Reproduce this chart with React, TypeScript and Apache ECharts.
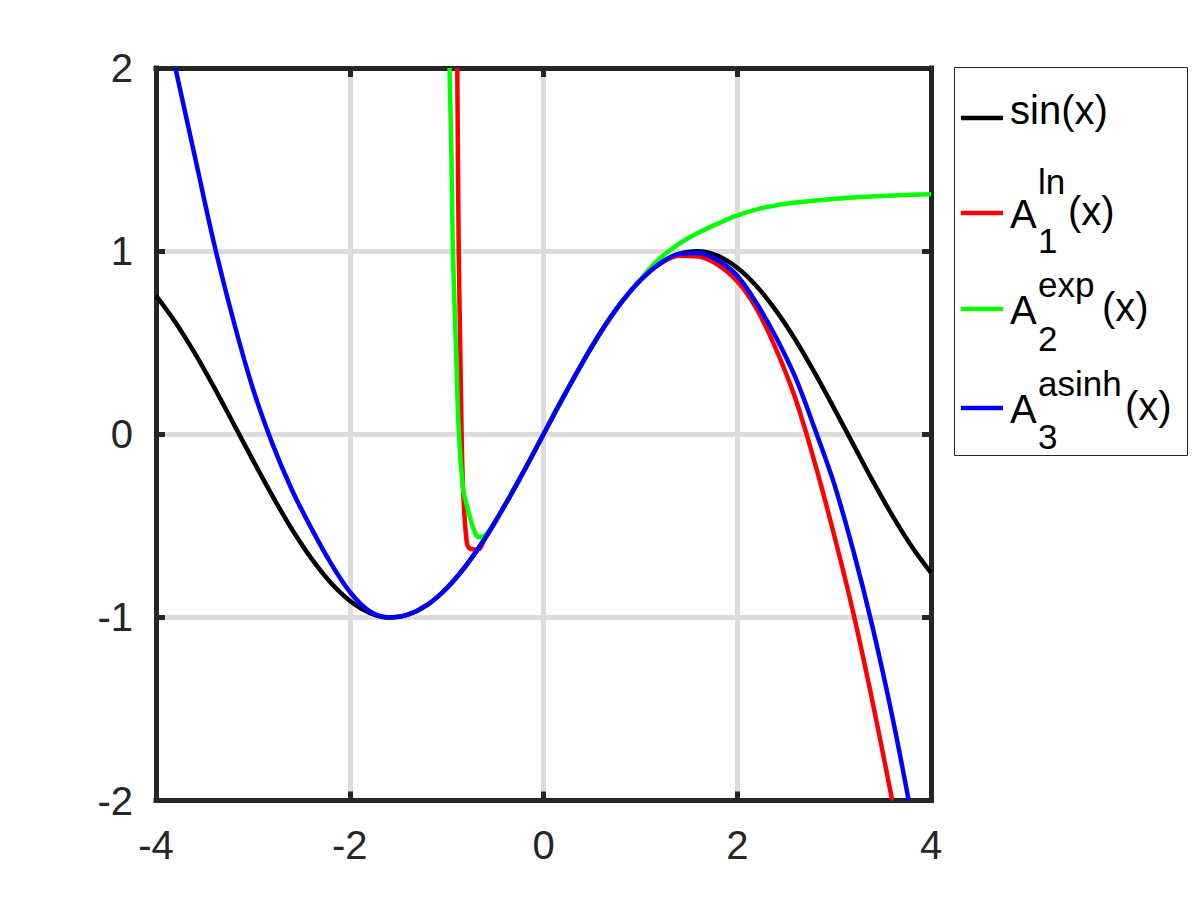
import React, { useEffect, useRef } from "react";
import * as echarts from "echarts";

// ---- data ----
const sinX = [-4, -3.8, -3.6, -3.4, -3.2, -3, -2.8, -2.6, -2.4, -2.2, -2, -1.8, -1.6, -1.4, -1.2, -1, -0.8, -0.6, -0.4, -0.2, 0, 0.2, 0.4, 0.6, 0.8, 1, 1.2, 1.4, 1.6, 1.8, 2, 2.2, 2.4, 2.6, 2.8, 3, 3.2, 3.4, 3.6, 3.8, 4];
const sinY = [0.757, 0.612, 0.443, 0.256, 0.058, -0.141, -0.335, -0.516, -0.675, -0.808, -0.909, -0.974, -1.0, -0.985, -0.932, -0.841, -0.717, -0.565, -0.389, -0.199, 0, 0.199, 0.389, 0.565, 0.717, 0.841, 0.932, 0.985, 1.0, 0.974, 0.909, 0.808, 0.675, 0.516, 0.335, 0.141, -0.058, -0.256, -0.443, -0.612, -0.757];

const a1X = [-0.89, -0.875, -0.86, -0.845, -0.83, -0.8, -0.77, -0.68, -0.6, -0.4, -0.2, 0, 0.2, 0.4, 0.6, 0.8, 1, 1.2, 1.4, 1.6, 1.8, 2, 2.2, 2.4, 2.6, 2.8, 3, 3.2, 3.4, 3.6];
const a1Y = [2.0, 1.0, 0.5, 0, -0.3, -0.55, -0.62, -0.63, -0.565, -0.389, -0.199, 0, 0.199, 0.389, 0.565, 0.717, 0.841, 0.93, 0.975, 0.97, 0.925, 0.835, 0.685, 0.465, 0.195, -0.155, -0.55, -0.98, -1.47, -2.0];

const a2X = [-0.97, -0.95, -0.935, -0.905, -0.873, -0.83, -0.8, -0.75, -0.7, -0.66, -0.6, -0.5, -0.4, -0.2, 0, 0.2, 0.4, 0.6, 0.8, 1, 1.2, 1.4, 1.6, 1.8, 2, 2.2, 2.4, 2.6, 2.8, 3, 3.2, 3.4, 3.6, 3.8, 4];
const a2Y = [2.0, 1.5, 1.0, 0.5, 0, -0.3, -0.37, -0.47, -0.545, -0.563, -0.55, -0.479, -0.389, -0.199, 0, 0.199, 0.389, 0.565, 0.717, 0.845, 0.96, 1.04, 1.1, 1.15, 1.195, 1.228, 1.25, 1.265, 1.276, 1.285, 1.293, 1.299, 1.304, 1.308, 1.31];

const a3X = [-3.8, -3.6, -3.4, -3.2, -3, -2.8, -2.6, -2.4, -2.2, -2, -1.8, -1.6, -1.4, -1.2, -1, -0.8, -0.6, -0.4, -0.2, 0, 0.2, 0.4, 0.6, 0.8, 1, 1.2, 1.4, 1.6, 1.8, 2, 2.2, 2.4, 2.6, 2.8, 3, 3.2, 3.4, 3.6, 3.77];
const a3Y = [2.0, 1.52, 1.04, 0.62, 0.25, -0.05, -0.3, -0.51, -0.7, -0.86, -0.965, -1.0, -0.985, -0.932, -0.841, -0.717, -0.565, -0.389, -0.199, 0, 0.199, 0.389, 0.565, 0.717, 0.841, 0.932, 0.985, 0.99, 0.95, 0.865, 0.715, 0.53, 0.31, 0.03, -0.27, -0.64, -1.06, -1.54, -2.0];

const xRange = [-4, 4];
const yRange = [-2, 2];

const seriesNames = ["sin(x)", "A1ln(x)", "A2exp(x)", "A3asinh(x)"];
const seriesColors = ["#000000", "#ff0000", "#00ff00", "#0000ff"];

const legendRows = [
  { main: "sin(x)", sup: "", sub: "", tail: "" },
  { main: "A", sup: "ln", sub: "1", tail: "(x)" },
  { main: "A", sup: "exp", sub: "2", tail: "(x)" },
  { main: "A", sup: "asinh", sub: "3", tail: "(x)" },
];

const zip = (xs: number[], ys: number[]) => xs.map((x, i) => [x, ys[i]]);

const FONT = "'Liberation Sans', Arial, Helvetica, sans-serif";
const DARK = "#262626";

export default function App() {
  const ref = useRef<HTMLDivElement>(null);

  useEffect(() => {
    if (!ref.current) return;
    const chart = echarts.init(ref.current, undefined, { renderer: "svg" });

    const axisCommon = {
      type: "value" as const,
      axisLine: { show: true, onZero: false, lineStyle: { color: DARK, width: 5, cap: "square" } },
      axisTick: { show: true, inside: true, length: 9, lineStyle: { color: DARK, width: 5 } },
    };

    const lineY = [118, 213, 309, 408];
    const mainY = [110, 214, 310, 409];
    const supY = [0, 181, 284, 383];
    const subY = [0, 240, 338, 436];
    const tailX = [0, 1068, 1102, 1125];

    const legendEls: any[] = [
      {
        type: "rect",
        shape: { x: 954.5, y: 67.5, width: 233, height: 388 },
        style: { fill: "#ffffff", stroke: DARK, lineWidth: 1 },
        z: 10,
      },
    ];
    legendRows.forEach((r, i) => {
      legendEls.push({
        type: "line",
        shape: { x1: 961, y1: lineY[i], x2: 1003, y2: lineY[i] },
        style: { stroke: seriesColors[i], lineWidth: 4.5 },
        z: 11,
      });
      legendEls.push({
        type: "text",
        x: 1010,
        y: mainY[i],
        style: { text: r.main, font: `40px ${FONT}`, fill: "#000000", align: "left", verticalAlign: "middle" },
        z: 11,
      });
      if (r.sup) {
        legendEls.push({
          type: "text",
          x: 1038,
          y: supY[i],
          style: { text: r.sup, font: `35px ${FONT}`, fill: "#000000", align: "left", verticalAlign: "middle" },
          z: 11,
        });
        legendEls.push({
          type: "text",
          x: 1038,
          y: subY[i],
          style: { text: r.sub, font: `35px ${FONT}`, fill: "#000000", align: "left", verticalAlign: "middle" },
          z: 11,
        });
        legendEls.push({
          type: "text",
          x: tailX[i],
          y: mainY[i] - 3,
          style: { text: r.tail, font: `40px ${FONT}`, fill: "#000000", align: "left", verticalAlign: "middle" },
          z: 11,
        });
      }
    });

    const option: any = {
      animation: false,
      backgroundColor: "#ffffff",
      grid: { left: 156, right: 269, top: 68, bottom: 99.5, containLabel: false },
      xAxis: [
        {
          ...axisCommon,
          position: "bottom",
          min: xRange[0],
          max: xRange[1],
          interval: 2,
          axisLabel: { color: DARK, fontSize: 40, fontFamily: FONT, margin: 24 },
          splitLine: { show: true, lineStyle: { color: "#dcdcdc", width: 5 } },
        },
        {
          ...axisCommon,
          position: "top",
          min: xRange[0],
          max: xRange[1],
          interval: 2,
          axisLabel: { show: false },
          splitLine: { show: false },
        },
      ],
      yAxis: [
        {
          ...axisCommon,
          position: "left",
          min: yRange[0],
          max: yRange[1],
          interval: 1,
          axisLabel: { color: DARK, fontSize: 40, fontFamily: FONT, margin: 23 },
          splitLine: { show: true, lineStyle: { color: "#dcdcdc", width: 5 } },
        },
        {
          ...axisCommon,
          position: "right",
          min: yRange[0],
          max: yRange[1],
          interval: 1,
          axisLabel: { show: false },
          splitLine: { show: false },
        },
      ],
      series: [
        zip(sinX, sinY),
        zip(a1X, a1Y),
        zip(a2X, a2Y),
        zip(a3X, a3Y),
      ].map((data, i) => ({
        type: "line",
        name: seriesNames[i],
        data,
        xAxisIndex: 0,
        yAxisIndex: 0,
        showSymbol: false,
        symbol: "none",
        smooth: 0.35,
        clip: true,
        lineStyle: { color: seriesColors[i], width: 4.5, join: "round" },
        z: 2 + i,
      })),
      graphic: legendEls,
    };

    chart.setOption(option);
    return () => chart.dispose();
  }, []);

  return (
    <div
      ref={ref}
      style={{ position: "absolute", left: 0, top: 0, width: 1200, height: 900, background: "#fff" }}
    />
  );
}
